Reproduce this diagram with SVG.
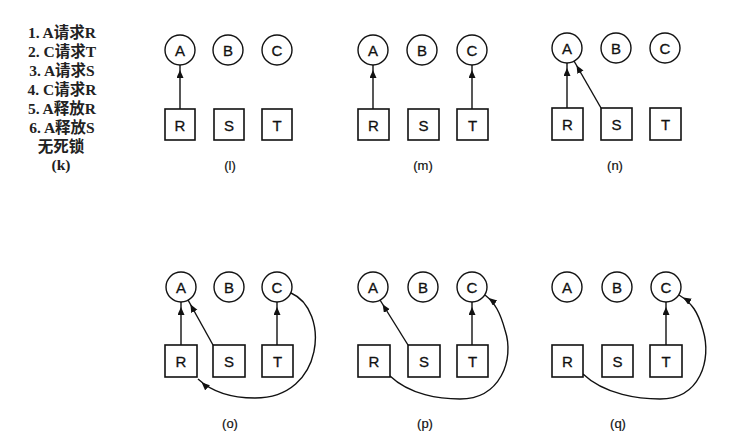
<svg xmlns="http://www.w3.org/2000/svg" width="741" height="445" viewBox="0 0 741 445">
<style>
.c{fill:#fff;stroke:#111;stroke-width:1.4}
.s{fill:#fff;stroke:#111;stroke-width:1.6}
.t{font-family:"Liberation Sans",Arial,sans-serif;font-size:15px;fill:#111;stroke:#111;stroke-width:0.3;text-anchor:middle;dominant-baseline:central}
.lb{font-family:"Liberation Sans",Arial,sans-serif;font-size:13px;fill:#111;stroke:#111;stroke-width:0.2;text-anchor:middle}
.k{font-family:"Liberation Serif","Noto Sans CJK SC",serif;font-size:15.5px;font-weight:bold;fill:#222;text-anchor:middle}
.e{fill:none;stroke:#111;stroke-width:1.4;marker-end:url(#ah)}
</style>
<defs>
<marker id="ah" markerUnits="userSpaceOnUse" markerWidth="16" markerHeight="8" refX="13" refY="3.5" orient="auto" viewBox="0 0 16 8">
<path d="M0,0 L8,3.5 L0,7 Z" fill="#111"/>
</marker>
</defs>
<g id="legend">
<text class="k" x="62" y="38">1. A请求R</text>
<text class="k" x="62" y="57">2. C请求T</text>
<text class="k" x="62" y="76">3. A请求S</text>
<text class="k" x="62" y="95">4. C请求R</text>
<text class="k" x="62" y="114">5. A释放R</text>
<text class="k" x="62" y="133">6. A释放S</text>
<text class="k" x="61" y="152">无死锁</text>
<text class="k" x="61" y="170">(k)</text>
</g>
<g id="connectors">
<path class="e" d="M180,109 L180,65"/>
<path class="e" d="M373,109 L373,65"/>
<path class="e" d="M472,109 L472,65"/>
<path class="e" d="M567,108 L567,63"/>
<path class="e" d="M601,108 L574,61"/>
<path class="e" d="M181,345 L181,302"/>
<path class="e" d="M213,345 L188,300"/>
<path class="e" d="M277,345 L277,302"/>
<path class="e" d="M291,293 C330,310 325,398 255,398 C230,398 212,392 198,379"/>
<path class="e" d="M408,345 L380,300"/>
<path class="e" d="M472,345 L472,302"/>
<path class="e" d="M390,376 C410,395 440,399 460,399 C500,399 515,360 505,330 C500,312 495,303 485,295"/>
<path class="e" d="M666,345 L666,302"/>
<path class="e" d="M583,374 C605,395 640,399 660,399 C700,399 712,360 703,330 C698,312 692,303 679,295"/>
</g>
<g id="panel-l">
<g id="l-A"><circle class="c" cx="180" cy="50" r="15"/><text class="t" x="180" y="50">A</text></g>
<g id="l-B"><circle class="c" cx="228" cy="50" r="15"/><text class="t" x="228" y="50">B</text></g>
<g id="l-C"><circle class="c" cx="277" cy="50" r="15"/><text class="t" x="277" y="50">C</text></g>
<g id="l-R"><rect class="s" x="165" y="109" width="30" height="31"/><text class="t" x="180" y="125">R</text></g>
<g id="l-S"><rect class="s" x="214" y="109" width="30" height="31"/><text class="t" x="229" y="125">S</text></g>
<g id="l-T"><rect class="s" x="262" y="109" width="30" height="31"/><text class="t" x="277" y="125">T</text></g>
<text class="lb" x="230" y="170">(l)</text>
</g>
<g id="panel-m">
<g id="m-A"><circle class="c" cx="373" cy="50" r="15"/><text class="t" x="373" y="50">A</text></g>
<g id="m-B"><circle class="c" cx="422" cy="50" r="15"/><text class="t" x="422" y="50">B</text></g>
<g id="m-C"><circle class="c" cx="472" cy="50" r="15"/><text class="t" x="472" y="50">C</text></g>
<g id="m-R"><rect class="s" x="358" y="109" width="31" height="31"/><text class="t" x="373.5" y="125">R</text></g>
<g id="m-S"><rect class="s" x="408" y="109" width="31" height="31"/><text class="t" x="423.5" y="125">S</text></g>
<g id="m-T"><rect class="s" x="457" y="109" width="31" height="31"/><text class="t" x="472.5" y="125">T</text></g>
<text class="lb" x="423" y="170">(m)</text>
</g>
<g id="panel-n">
<g id="n-A"><circle class="c" cx="567" cy="48" r="15"/><text class="t" x="567" y="48">A</text></g>
<g id="n-B"><circle class="c" cx="616" cy="48" r="15"/><text class="t" x="616" y="48">B</text></g>
<g id="n-C"><circle class="c" cx="665" cy="48" r="15"/><text class="t" x="665" y="48">C</text></g>
<g id="n-R"><rect class="s" x="552" y="108" width="31" height="32"/><text class="t" x="567.5" y="124">R</text></g>
<g id="n-S"><rect class="s" x="601" y="108" width="31" height="32"/><text class="t" x="616.5" y="124">S</text></g>
<g id="n-T"><rect class="s" x="650" y="108" width="31" height="32"/><text class="t" x="665.5" y="124">T</text></g>
<text class="lb" x="615" y="170">(n)</text>
</g>
<g id="panel-o">
<g id="o-A"><circle class="c" cx="181" cy="287" r="15"/><text class="t" x="181" y="287">A</text></g>
<g id="o-B"><circle class="c" cx="229" cy="287" r="15"/><text class="t" x="229" y="287">B</text></g>
<g id="o-C"><circle class="c" cx="277" cy="287" r="15"/><text class="t" x="277" y="287">C</text></g>
<g id="o-R"><rect class="s" x="165" y="345" width="32" height="32"/><text class="t" x="181" y="361">R</text></g>
<g id="o-S"><rect class="s" x="213" y="345" width="32" height="32"/><text class="t" x="229" y="361">S</text></g>
<g id="o-T"><rect class="s" x="262" y="345" width="31" height="32"/><text class="t" x="277.5" y="361">T</text></g>
<text class="lb" x="230" y="428">(o)</text>
</g>
<g id="panel-p">
<g id="p-A"><circle class="c" cx="373" cy="287" r="15"/><text class="t" x="373" y="287">A</text></g>
<g id="p-B"><circle class="c" cx="423" cy="287" r="15"/><text class="t" x="423" y="287">B</text></g>
<g id="p-C"><circle class="c" cx="472" cy="287" r="15"/><text class="t" x="472" y="287">C</text></g>
<g id="p-R"><rect class="s" x="358" y="345" width="32" height="32"/><text class="t" x="374" y="361">R</text></g>
<g id="p-S"><rect class="s" x="408" y="345" width="32" height="32"/><text class="t" x="424" y="361">S</text></g>
<g id="p-T"><rect class="s" x="457" y="345" width="31" height="32"/><text class="t" x="472.5" y="361">T</text></g>
<text class="lb" x="425" y="428">(p)</text>
</g>
<g id="panel-q">
<g id="q-A"><circle class="c" cx="567" cy="287" r="15"/><text class="t" x="567" y="287">A</text></g>
<g id="q-B"><circle class="c" cx="617" cy="287" r="15"/><text class="t" x="617" y="287">B</text></g>
<g id="q-C"><circle class="c" cx="666" cy="287" r="15"/><text class="t" x="666" y="287">C</text></g>
<g id="q-R"><rect class="s" x="552" y="345" width="31" height="32"/><text class="t" x="567.5" y="361">R</text></g>
<g id="q-S"><rect class="s" x="602" y="345" width="31" height="32"/><text class="t" x="617.5" y="361">S</text></g>
<g id="q-T"><rect class="s" x="650" y="345" width="32" height="32"/><text class="t" x="666" y="361">T</text></g>
<text class="lb" x="618" y="428">(q)</text>
</g>
</svg>
